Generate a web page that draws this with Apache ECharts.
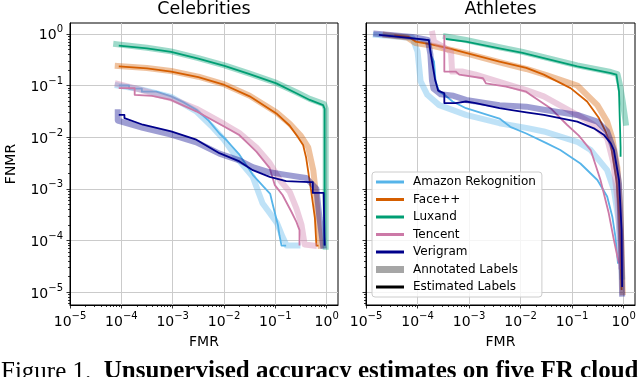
<!DOCTYPE html>
<html>
<head>
<meta charset="utf-8">
<script src="https://cdn.jsdelivr.net/npm/echarts@6/dist/echarts.min.js"></script>
<style>
  html, body { margin: 0; padding: 0; background: #fff; }
  #chart { width: 640px; height: 377px; }
</style>
</head>
<body>
<div id="chart"></div>
<script>
// every point is [log10 FMR, log10 FNMR]
const services = ['Amazon Rekognition', 'Face++', 'Luxand', 'Tencent', 'Verigram']
const colors = ['#56B4E9', '#D55E00', '#009E73', '#CC79A7', '#00008B']
const panelTitles = ['Celebrities', 'Athletes']
const tickExponents = [-5, -4, -3, -2, -1, 0]
const minorMantissas = [2, 3, 4, 5, 6, 7, 8, 9]

// Celebrities
const celebAmazonAnn = [[-4.07, -1.0], [-3.6, -1.08], [-3.03, -1.22], [-2.54, -1.5], [-2.25, -1.78], [-2.0, -2.05], [-1.75, -2.4], [-1.44, -2.77], [-1.25, -3.28], [-1.11, -3.47], [-0.97, -3.66], [-0.86, -3.93], [-0.78, -4.1], [-0.57, -4.1]]
const celebAmazonEst = [[-4.05, -1.0], [-3.85, -1.0], [-3.85, -1.06], [-3.6, -1.06], [-3.6, -1.12], [-3.32, -1.12], [-3.03, -1.21], [-2.8, -1.32], [-2.54, -1.47], [-2.3, -1.68], [-2.09, -1.93], [-1.96, -2.05], [-1.7, -2.34], [-1.44, -2.73], [-1.24, -2.95], [-1.1, -3.1], [-1.05, -3.31], [-0.95, -3.7], [-0.92, -3.9], [-0.88, -4.1], [-0.79, -4.1]]
const celebFaceAnn = [[-4.07, -0.62], [-3.5, -0.66], [-3.03, -0.72], [-2.5, -0.83], [-1.99, -0.98], [-1.5, -1.2], [-0.98, -1.52], [-0.72, -1.74], [-0.5, -1.98], [-0.36, -2.2], [-0.26, -2.65], [-0.2, -3.2], [-0.16, -3.7], [-0.12, -4.1]]
const celebFaceEst = [[-4.05, -0.63], [-3.5, -0.67], [-3.03, -0.73], [-2.5, -0.84], [-1.99, -0.99], [-1.5, -1.21], [-0.98, -1.54], [-0.72, -1.78], [-0.56, -2.0], [-0.46, -2.15], [-0.4, -2.4], [-0.35, -2.73], [-0.3, -3.06], [-0.23, -3.57], [-0.2, -4.1], [-0.16, -4.1]]
const celebLuxandAnn = [[-4.1, -0.2], [-3.5, -0.27], [-3.03, -0.34], [-2.5, -0.47], [-1.99, -0.61], [-1.5, -0.77], [-0.98, -0.95], [-0.59, -1.13], [-0.33, -1.26], [-0.05, -1.36], [-0.02, -1.45], [-0.02, -4.12]]
const celebLuxandEst = [[-4.05, -0.23], [-3.5, -0.28], [-3.03, -0.35], [-2.5, -0.48], [-1.99, -0.62], [-1.5, -0.78], [-0.98, -0.96], [-0.59, -1.15], [-0.33, -1.28], [-0.07, -1.38], [-0.04, -1.45], [-0.04, -4.1]]
const celebTencentAnn = [[-4.07, -0.97], [-3.74, -1.05], [-3.4, -1.15], [-3.03, -1.25], [-2.54, -1.45], [-1.99, -1.75], [-1.7, -1.92], [-1.37, -2.2], [-1.11, -2.5], [-0.9, -2.85], [-0.72, -3.06], [-0.59, -3.38], [-0.49, -3.7], [-0.43, -4.08], [-0.25, -4.1]]
const celebTencentEst = [[-4.05, -1.05], [-3.74, -1.05], [-3.74, -1.18], [-3.4, -1.2], [-3.03, -1.28], [-2.54, -1.5], [-1.99, -1.8], [-1.7, -1.96], [-1.37, -2.28], [-1.11, -2.6], [-1.01, -2.93], [-0.86, -3.12], [-0.69, -3.44], [-0.59, -3.64], [-0.53, -3.8], [-0.53, -4.1]]
const celebVerigramAnn = [[-4.07, -1.52], [-4.07, -1.68], [-3.58, -1.82], [-3.03, -1.95], [-2.54, -2.1], [-2.09, -2.32], [-1.7, -2.45], [-1.44, -2.58], [-1.11, -2.68], [-0.79, -2.73], [-0.4, -2.79], [-0.2, -3.0], [-0.14, -3.57], [-0.07, -4.1]]
const celebVerigramEst = [[-4.05, -1.57], [-3.94, -1.57], [-3.94, -1.63], [-3.58, -1.76], [-3.03, -1.89], [-2.54, -2.05], [-2.09, -2.31], [-1.7, -2.47], [-1.44, -2.64], [-1.11, -2.77], [-0.79, -2.85], [-0.33, -2.87], [-0.27, -2.87], [-0.27, -3.08], [-0.06, -3.08], [-0.04, -4.1]]

// Athletes
const athAmazonAnn = [[-4.81, -0.02], [-4.1, -0.08], [-4.0, -0.34], [-3.94, -0.92], [-3.81, -1.18], [-3.58, -1.38], [-3.06, -1.57], [-2.41, -1.73], [-1.89, -1.82], [-1.55, -1.89], [-0.9, -2.09], [-0.64, -2.25], [-0.32, -2.64], [-0.19, -3.02], [-0.1, -3.6], [-0.05, -4.3], [-0.03, -4.7]]
const athAmazonEst = [[-4.65, -0.02], [-4.17, -0.08], [-3.78, -0.12], [-3.74, -0.41], [-3.68, -0.54], [-3.65, -0.92], [-3.58, -1.12], [-3.48, -1.18], [-3.32, -1.31], [-3.06, -1.44], [-2.41, -1.64], [-2.2, -1.8], [-1.89, -1.93], [-1.49, -2.12], [-1.23, -2.25], [-0.84, -2.51], [-0.51, -2.83], [-0.32, -3.15], [-0.22, -3.54], [-0.16, -3.93], [-0.11, -4.45]]
const athFaceAnn = [[-4.62, -0.02], [-4.2, -0.07], [-4.04, -0.18], [-3.71, -0.23], [-3.06, -0.38], [-2.41, -0.55], [-1.89, -0.68], [-1.5, -0.8], [-0.9, -1.0], [-0.51, -1.38], [-0.32, -1.7], [-0.22, -2.02], [-0.12, -2.6], [-0.07, -3.3], [-0.04, -4.2], [-0.02, -5.0]]
const athFaceEst = [[-4.45, -0.03], [-4.17, -0.06], [-4.04, -0.15], [-3.71, -0.21], [-3.39, -0.28], [-3.06, -0.37], [-2.41, -0.54], [-1.89, -0.66], [-1.55, -0.79], [-1.03, -1.05], [-0.71, -1.31], [-0.48, -1.63], [-0.35, -1.89], [-0.25, -2.15], [-0.14, -2.83], [-0.09, -3.47], [-0.06, -4.12], [-0.04, -4.96]]
const athLuxandAnn = [[-3.45, -0.05], [-3.06, -0.12], [-2.41, -0.26], [-1.96, -0.35], [-1.55, -0.45], [-0.9, -0.61], [-0.25, -0.74], [-0.12, -0.78], [-0.07, -1.0], [-0.02, -1.3], [0.04, -1.72]]
const athLuxandEst = [[-3.45, -0.1], [-3.06, -0.15], [-2.41, -0.28], [-1.96, -0.37], [-1.55, -0.47], [-0.9, -0.63], [-0.25, -0.76], [-0.14, -0.79], [-0.09, -1.12], [-0.06, -2.2], [-0.06, -2.38]]
const athTencentAnn = [[-3.71, 0.0], [-3.68, -0.15], [-3.5, -0.25], [-3.35, -0.35], [-3.33, -0.73], [-3.12, -0.73], [-2.87, -0.79], [-2.54, -0.89], [-1.89, -1.09], [-1.55, -1.21], [-0.9, -1.57], [-0.58, -1.76], [-0.32, -2.02], [-0.2, -2.5], [-0.12, -3.2], [-0.07, -4.0], [-0.05, -4.5]]
const athTencentEst = [[-3.48, -0.02], [-3.48, -0.73], [-3.26, -0.73], [-3.19, -0.79], [-2.73, -0.86], [-2.67, -0.96], [-2.28, -1.02], [-1.89, -1.12], [-1.81, -1.18], [-1.42, -1.44], [-1.1, -1.76], [-0.87, -1.97], [-0.64, -2.25], [-0.45, -2.83], [-0.29, -3.47], [-0.19, -3.99], [-0.12, -4.32], [-0.09, -4.44]]
const athVerigramAnn = [[-4.8, 0.0], [-4.1, -0.06], [-3.8, -0.12], [-3.75, -0.4], [-3.72, -0.9], [-3.69, -1.06], [-3.55, -1.17], [-3.3, -1.2], [-3.06, -1.28], [-2.41, -1.38], [-1.89, -1.41], [-1.55, -1.47], [-0.9, -1.57], [-0.51, -1.7], [-0.32, -1.89], [-0.19, -2.25], [-0.09, -2.9], [-0.05, -4.0], [-0.03, -5.03]]
const athVerigramEst = [[-4.75, -0.02], [-4.17, -0.08], [-3.78, -0.12], [-3.74, -0.41], [-3.66, -0.88], [-3.6, -1.1], [-3.48, -1.15], [-3.48, -1.34], [-3.26, -1.34], [-3.06, -1.31], [-2.87, -1.34], [-2.41, -1.44], [-2.2, -1.47], [-1.89, -1.52], [-1.55, -1.57], [-0.9, -1.7], [-0.58, -1.83], [-0.38, -1.96], [-0.25, -2.12], [-0.19, -2.25], [-0.09, -2.83], [-0.04, -3.8], [-0.03, -4.9]]

const annotated = [
  [celebAmazonAnn, celebFaceAnn, celebLuxandAnn, celebTencentAnn, celebVerigramAnn],
  [athAmazonAnn, athFaceAnn, athLuxandAnn, athTencentAnn, athVerigramAnn]
]
const estimated = [
  [celebAmazonEst, celebFaceEst, celebLuxandEst, celebTencentEst, celebVerigramEst],
  [athAmazonEst, athFaceEst, athLuxandEst, athTencentEst, athVerigramEst]
]

const FONT = 'DejaVu Sans'
const X_MIN = -5, X_MAX = 0.22
const Y_MIN = -5.25, Y_MAX = 0.21
const grids = [
  { left: 70, top: 23, width: 268, height: 282 },
  { left: 366, top: 23, width: 269, height: 282 }
]

const minorTicks = (lo, hi) => {
  const out = []
  for (let n = -6; n <= 0; n++) {
    minorMantissas.forEach(k => {
      const v = n + Math.log10(k)
      if (v > lo && v < hi) out.push(v)
    })
  }
  return out
}
const minorX = minorTicks(X_MIN, X_MAX)
const minorY = minorTicks(Y_MIN, Y_MAX)

const powLabel = v => {
  const e = Math.round(v)
  return '{b|10}{s|' + (e === 0 ? '0' : '\u2212' + Math.abs(e)) + '}'
}
const powRich = {
  b: { fontFamily: FONT, fontSize: 14, color: '#000', lineHeight: 18, verticalAlign: 'bottom' },
  s: { fontFamily: FONT, fontSize: 10, color: '#000', lineHeight: 18, verticalAlign: 'top' }
}

const tickLine = { color: '#000', width: 0.8 }

const xAxes = []
const yAxes = []
grids.forEach((g, i) => {
  xAxes.push({
    type: 'value', gridIndex: i, min: X_MIN, max: X_MAX, position: 'bottom',
    name: 'FMR', nameLocation: 'middle', nameGap: 30,
    nameTextStyle: { fontFamily: FONT, fontSize: 14, color: '#000' },
    axisLine: { show: true, onZero: false, lineStyle: { color: '#000', width: 1 } },
    axisTick: { show: true, inside: false, length: 3.5, customValues: tickExponents, lineStyle: tickLine },
    axisLabel: { customValues: tickExponents, margin: 6, formatter: powLabel, rich: powRich },
    splitLine: { show: true, lineStyle: { color: '#cbcbcb', width: 1 } }
  })
  yAxes.push({
    type: 'value', gridIndex: i, min: Y_MIN, max: Y_MAX, position: 'left',
    name: i === 0 ? 'FNMR' : '', nameLocation: 'middle', nameGap: 52, nameRotate: 90,
    nameTextStyle: { fontFamily: FONT, fontSize: 14, color: '#000' },
    axisLine: { show: true, onZero: false, lineStyle: { color: '#000', width: 1 } },
    axisTick: { show: true, inside: false, length: 3.5, customValues: tickExponents, lineStyle: tickLine },
    axisLabel: { show: i === 0, customValues: tickExponents, margin: 7, formatter: powLabel, rich: powRich },
    splitLine: { show: true, lineStyle: { color: '#cbcbcb', width: 1 } }
  })
})
// minor log ticks on separate overlaid axes
grids.forEach((g, i) => {
  xAxes.push({
    type: 'value', gridIndex: i, min: X_MIN, max: X_MAX, position: 'bottom', offset: 0,
    axisLine: { show: false, onZero: false },
    axisTick: { show: true, inside: false, length: 2, customValues: minorX, lineStyle: tickLine },
    axisLabel: { show: false }, splitLine: { show: false }
  })
  yAxes.push({
    type: 'value', gridIndex: i, min: Y_MIN, max: Y_MAX, position: 'left', offset: 0,
    axisLine: { show: false, onZero: false },
    axisTick: { show: true, inside: false, length: 2, customValues: minorY, lineStyle: tickLine },
    axisLabel: { show: false }, splitLine: { show: false }
  })
})

const series = []
grids.forEach((g, p) => {
  services.forEach((name, s) => {
    series.push({
      type: 'line', name: name + ' (annotated)', xAxisIndex: p, yAxisIndex: p,
      data: annotated[p][s], symbol: 'none', silent: true, color: colors[s],
      lineStyle: { width: 6, opacity: 0.38, cap: 'square', join: 'round' }
    })
    series.push({
      type: 'line', name, xAxisIndex: p, yAxisIndex: p,
      data: estimated[p][s], symbol: 'none', silent: true, color: colors[s],
      lineStyle: { width: 1.8, cap: 'butt', join: 'round' }
    })
  })
})
series.push({ type: 'line', name: 'Annotated Labels', data: [], color: '#a6a6a6', symbol: 'none' })
series.push({ type: 'line', name: 'Estimated Labels', data: [], color: '#000', symbol: 'none' })

const thinIcon = 'path://M0,0H28V3H0Z'
const thickIcon = 'path://M0,0H28V7H0Z'

const chart = echarts.init(document.getElementById('chart'), null, { renderer: 'canvas' })
chart.setOption({
  animation: false,
  backgroundColor: '#fff',
  title: panelTitles.map((t, i) => ({
    text: t, left: grids[i].left + grids[i].width / 2, top: 0, textAlign: 'center', padding: 0,
    textStyle: { fontFamily: FONT, fontSize: 17.5, fontWeight: 'normal', color: '#000' }
  })),
  grid: grids.map(g => ({ ...g, show: true, borderColor: '#000', borderWidth: 1, backgroundColor: 'transparent' })),
  xAxis: xAxes,
  yAxis: yAxes,
  legend: {
    orient: 'vertical', left: 372, top: 172, padding: [4, 6, 4, 4],
    itemGap: 5.5, itemWidth: 28, itemHeight: 7, selectedMode: false,
    backgroundColor: 'rgba(255,255,255,0.8)', borderColor: '#cccccc', borderWidth: 1, borderRadius: 3,
    textStyle: { fontFamily: FONT, fontSize: 12, color: '#000', padding: [0, 0, 0, 4] },
    data: services.map(n => ({ name: n, icon: thinIcon }))
      .concat([{ name: 'Annotated Labels', icon: thickIcon }, { name: 'Estimated Labels', icon: thinIcon }])
  },
  graphic: [{
    type: 'text', x: 1, y: 372,
    style: {
      text: '{r|Figure 1.}{r|  }{b|Unsupervised accuracy estimates on five FR cloud}',
      verticalAlign: 'middle',
      rich: {
        r: { fontFamily: 'Liberation Serif', fontSize: 25, fill: '#000' },
        b: { fontFamily: 'Liberation Serif', fontSize: 25, fontWeight: 'bold', fill: '#000' }
      }
    }
  }],
  series
})
</script>
</body>
</html>
